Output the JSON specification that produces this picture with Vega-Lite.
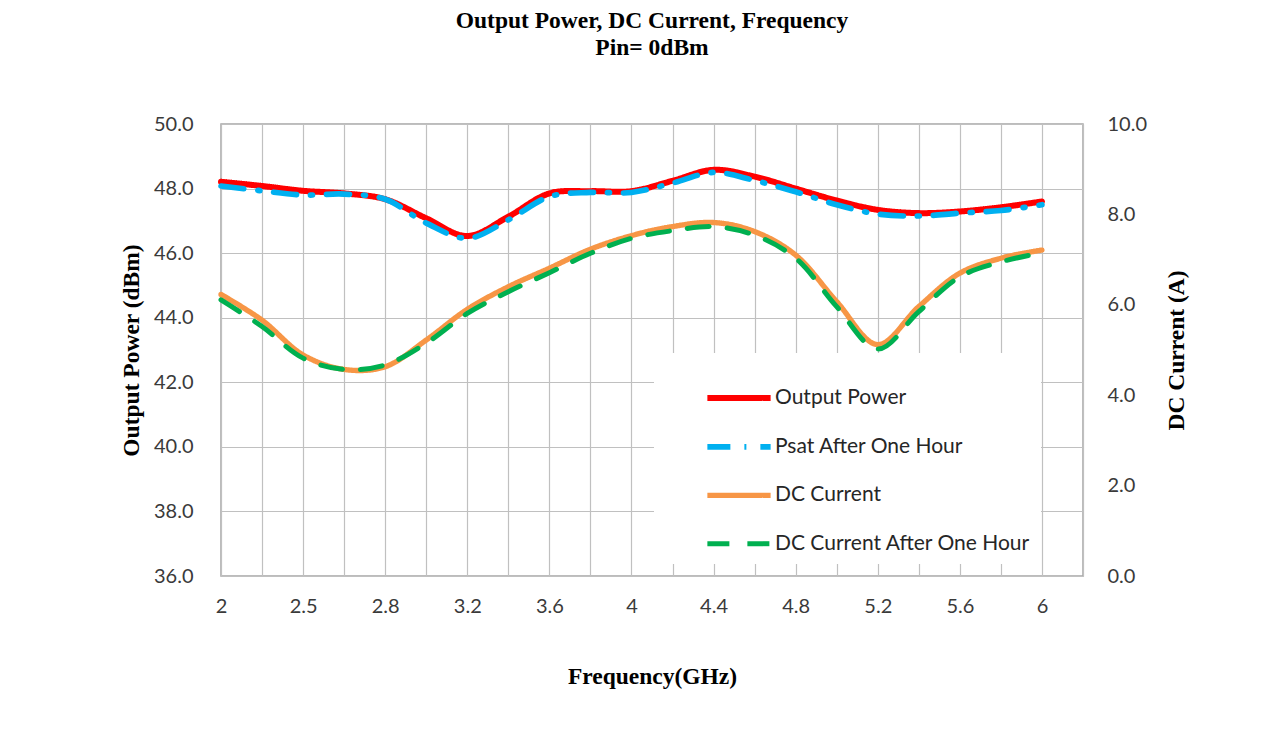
{
  "$schema": "https://vega.github.io/schema/vega-lite/v6.json",
  "width": 862,
  "height": 452,
  "autosize": {"type": "none"},
  "padding": {"left": 221, "top": 124, "right": 178, "bottom": 173},
  "background": "white",
  "title": {
    "text": ["Output  Power, DC Current,  Frequency", "Pin= 0dBm"],
    "font": "Liberation Serif",
    "fontWeight": "bold",
    "fontSize": 23.5,
    "lineHeight": 27,
    "color": "#000000",
    "anchor": "middle",
    "offset": 55
  },
  "config": {
    "view": {"stroke": "#a6a6a6", "strokeWidth": 1.5},
    "axis": {"gridColor": "#c0c0c0", "gridWidth": 1.2, "domain": false, "ticks": false, "labelFont": "Lato", "labelFontSize": 20, "labelColor": "#3a3a3a", "titleFont": "Liberation Serif", "titleFontWeight": "bold", "titleFontSize": 23.5, "titleColor": "#000000"},
    "legend": {
      "orient": "none", "legendX": 433, "legendY": 229,
      "fillColor": "white", "padding": 10,
      "symbolType": "stroke", "symbolSize": 4000, "symbolStrokeWidth": 6, "symbolOffset": 40,
      "labelFont": "Lato", "labelFontSize": 21, "labelColor": "#262626", "labelOffset": 1, "labelLimit": 400,
      "rowPadding": 2.4
    }
  },
  "datasets": {
    "power": [
      {"f": "2", "s": "Output Power", "v": 48.21},
      {"f": "2.2", "s": "Output Power", "v": 48.08},
      {"f": "2.5", "s": "Output Power", "v": 47.93},
      {"f": "2.6", "s": "Output Power", "v": 47.85},
      {"f": "2.8", "s": "Output Power", "v": 47.67},
      {"f": "3.0", "s": "Output Power", "v": 47.08},
      {"f": "3.2", "s": "Output Power", "v": 46.53},
      {"f": "3.4", "s": "Output Power", "v": 47.13},
      {"f": "3.6", "s": "Output Power", "v": 47.85},
      {"f": "3.8", "s": "Output Power", "v": 47.92},
      {"f": "4", "s": "Output Power", "v": 47.92},
      {"f": "4.2", "s": "Output Power", "v": 48.24},
      {"f": "4.4", "s": "Output Power", "v": 48.58},
      {"f": "4.6", "s": "Output Power", "v": 48.37},
      {"f": "4.8", "s": "Output Power", "v": 48.0},
      {"f": "5.0", "s": "Output Power", "v": 47.63},
      {"f": "5.2", "s": "Output Power", "v": 47.34},
      {"f": "5.4", "s": "Output Power", "v": 47.24},
      {"f": "5.6", "s": "Output Power", "v": 47.29},
      {"f": "5.8", "s": "Output Power", "v": 47.42},
      {"f": "6", "s": "Output Power", "v": 47.6},
      {"f": "2", "s": "Psat After One Hour", "v": 48.08},
      {"f": "2.2", "s": "Psat After One Hour", "v": 47.93},
      {"f": "2.5", "s": "Psat After One Hour", "v": 47.8},
      {"f": "2.6", "s": "Psat After One Hour", "v": 47.83},
      {"f": "2.8", "s": "Psat After One Hour", "v": 47.67},
      {"f": "3.0", "s": "Psat After One Hour", "v": 46.93},
      {"f": "3.2", "s": "Psat After One Hour", "v": 46.46},
      {"f": "3.4", "s": "Psat After One Hour", "v": 47.03},
      {"f": "3.6", "s": "Psat After One Hour", "v": 47.75},
      {"f": "3.8", "s": "Psat After One Hour", "v": 47.88},
      {"f": "4", "s": "Psat After One Hour", "v": 47.88},
      {"f": "4.2", "s": "Psat After One Hour", "v": 48.17},
      {"f": "4.4", "s": "Psat After One Hour", "v": 48.5},
      {"f": "4.6", "s": "Psat After One Hour", "v": 48.25},
      {"f": "4.8", "s": "Psat After One Hour", "v": 47.9},
      {"f": "5.0", "s": "Psat After One Hour", "v": 47.5},
      {"f": "5.2", "s": "Psat After One Hour", "v": 47.21},
      {"f": "5.4", "s": "Psat After One Hour", "v": 47.15},
      {"f": "5.6", "s": "Psat After One Hour", "v": 47.24},
      {"f": "5.8", "s": "Psat After One Hour", "v": 47.32},
      {"f": "6", "s": "Psat After One Hour", "v": 47.5}
    ],
    "current": [
      {"f": "2", "s": "DC Current", "v": 6.23},
      {"f": "2.2", "s": "DC Current", "v": 5.66},
      {"f": "2.5", "s": "DC Current", "v": 4.89},
      {"f": "2.6", "s": "DC Current", "v": 4.57},
      {"f": "2.8", "s": "DC Current", "v": 4.63},
      {"f": "3.0", "s": "DC Current", "v": 5.22},
      {"f": "3.2", "s": "DC Current", "v": 5.9},
      {"f": "3.4", "s": "DC Current", "v": 6.4},
      {"f": "3.6", "s": "DC Current", "v": 6.81},
      {"f": "3.8", "s": "DC Current", "v": 7.23},
      {"f": "4", "s": "DC Current", "v": 7.53},
      {"f": "4.2", "s": "DC Current", "v": 7.73},
      {"f": "4.4", "s": "DC Current", "v": 7.82},
      {"f": "4.6", "s": "DC Current", "v": 7.62},
      {"f": "4.8", "s": "DC Current", "v": 7.1},
      {"f": "5.0", "s": "DC Current", "v": 6.07},
      {"f": "5.2", "s": "DC Current", "v": 5.12},
      {"f": "5.4", "s": "DC Current", "v": 5.96},
      {"f": "5.6", "s": "DC Current", "v": 6.7},
      {"f": "5.8", "s": "DC Current", "v": 7.03},
      {"f": "6", "s": "DC Current", "v": 7.21},
      {"f": "2", "s": "DC Current After One Hour", "v": 6.11},
      {"f": "2.2", "s": "DC Current After One Hour", "v": 5.52},
      {"f": "2.5", "s": "DC Current After One Hour", "v": 4.82},
      {"f": "2.6", "s": "DC Current After One Hour", "v": 4.57},
      {"f": "2.8", "s": "DC Current After One Hour", "v": 4.67},
      {"f": "3.0", "s": "DC Current After One Hour", "v": 5.15},
      {"f": "3.2", "s": "DC Current After One Hour", "v": 5.81},
      {"f": "3.4", "s": "DC Current After One Hour", "v": 6.29},
      {"f": "3.6", "s": "DC Current After One Hour", "v": 6.71},
      {"f": "3.8", "s": "DC Current After One Hour", "v": 7.14},
      {"f": "4", "s": "DC Current After One Hour", "v": 7.47},
      {"f": "4.2", "s": "DC Current After One Hour", "v": 7.64},
      {"f": "4.4", "s": "DC Current After One Hour", "v": 7.73},
      {"f": "4.6", "s": "DC Current After One Hour", "v": 7.54},
      {"f": "4.8", "s": "DC Current After One Hour", "v": 7.03},
      {"f": "5.0", "s": "DC Current After One Hour", "v": 5.96},
      {"f": "5.2", "s": "DC Current After One Hour", "v": 5.02},
      {"f": "5.4", "s": "DC Current After One Hour", "v": 5.85},
      {"f": "5.6", "s": "DC Current After One Hour", "v": 6.62},
      {"f": "5.8", "s": "DC Current After One Hour", "v": 6.95},
      {"f": "6", "s": "DC Current After One Hour", "v": 7.15}
    ]
  },
  "encoding": {
    "x": {
      "field": "f", "type": "ordinal",
      "scale": {"type": "point", "padding": 0, "domain": ["2","2.2","2.5","2.6","2.8","3.0","3.2","3.4","3.6","3.8","4","4.2","4.4","4.6","4.8","5.0","5.2","5.4","5.6","5.8","6"," "]},
      "axis": {
        "title": "Frequency(GHz)", "labelAngle": 0, "labelPadding": 20, "grid": true,
        "labelExpr": "indexof(['2','2.5','2.8','3.2','3.6','4','4.4','4.8','5.2','5.6','6'], datum.value) >= 0 ? datum.value : ''",
        "titleY": 100, "titleBaseline": "middle"
      }
    },
    "color": {
      "field": "s", "type": "nominal",
      "scale": {"domain": ["Output Power", "Psat After One Hour", "DC Current", "DC Current After One Hour"], "range": ["#ff0000", "#00b0f0", "#f79646", "#00b050"]},
      "legend": {"title": null}
    },
    "strokeDash": {
      "field": "s", "type": "nominal",
      "scale": {"domain": ["Output Power", "Psat After One Hour", "DC Current", "DC Current After One Hour"], "range": [[1, 0], [23, 14, 2, 14], [1, 0], [22, 18]]},
      "legend": {"title": null}
    },
    "strokeWidth": {
      "field": "s", "type": "nominal",
      "scale": {"domain": ["Output Power", "Psat After One Hour", "DC Current", "DC Current After One Hour"], "range": [6, 5, 6, 5.5]},
      "legend": null
    }
  },
  "layer": [
    {
      "data": {"name": "power"},
      "mark": {"type": "line", "interpolate": "catmull-rom", "strokeCap": "round"},
      "encoding": {
        "y": {
          "field": "v", "type": "quantitative",
          "scale": {"domain": [36, 50], "zero": false, "nice": false},
          "axis": {"orient": "left", "values": [36,38,40,42,44,46,48,50], "format": ".1f", "labelPadding": 28, "grid": true,
                   "title": "Output  Power (dBm)", "titleX": -90, "titleY": 226, "titleAngle": 270, "titleBaseline": "middle", "titleAlign": "center"}
        }
      }
    },
    {
      "data": {"name": "current"},
      "mark": {"type": "line", "interpolate": "catmull-rom", "strokeCap": "round"},
      "encoding": {
        "y": {
          "field": "v", "type": "quantitative",
          "scale": {"domain": [0, 10], "nice": false},
          "axis": {"orient": "right", "values": [0,2,4,6,8,10], "format": ".1f", "labelPadding": 24, "grid": false,
                   "title": "DC  Current  (A)", "titleX": 93, "titleY": 226, "titleAngle": 270, "titleBaseline": "middle", "titleAlign": "center"}
        }
      }
    }
  ],
  "resolve": {"scale": {"y": "independent"}}
}
